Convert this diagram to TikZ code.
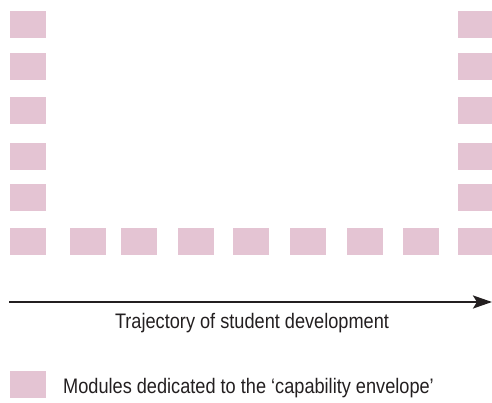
\documentclass[tikz,border=0pt]{standalone}
\usepackage{fontspec}
\setmainfont{Liberation Sans}
\newfontfamily\narrowfont[FakeStretch=0.865]{Liberation Sans}
\usetikzlibrary{arrows.meta}
\definecolor{modulePink}{RGB}{228,196,211}
\definecolor{inkGrey}{RGB}{35,31,32}
\begin{document}
\begin{tikzpicture}
[x=1pt,y=-1pt,
  moduleDecorate/.style={shape=rectangle,fill=modulePink,inner sep=0pt,
    minimum width=36pt,minimum height=27pt},%
  lineDecorate/.style={-{Stealth[length=19pt,width=13pt,inset=4pt]},line width=2.5pt,draw=inkGrey},%
  labelDecorate/.style={font=\narrowfont\fontsize{21}{25}\selectfont,text=inkGrey,inner sep=0pt}]
\useasboundingbox (0,0) rectangle (492,403);
%% capability envelope
%% left and right columns
\foreach \nodename/\x/\y in {
  l1/28/24.5, l2/28/66.5, l3/28/110.5, l4/28/156.5, l5/28/197.5,
  r1/476/24.5, r2/476/66.5, r3/476/110.5, r4/476/156.5, r5/476/197.5}
{
  \node (\nodename) at (\x,\y) [moduleDecorate] {};
}
%% bottom row
\foreach \nodename/\x in {
  b1/28, b2/88, b3/139, b4/196, b5/251, b6/308, b7/365, b8/421, b9/476}
{
  \node (\nodename) at (\x,241.5) [moduleDecorate] {};
}
%% trajectory
\coordinate (start) at (9,302);
\coordinate (end) at (492,302);
\path (start) edge[lineDecorate] (end);
\node (trajectory) at (252,328) [labelDecorate,anchor=base] {Trajectory of student development};
%% legend
\node (key) at (28,384.5) [moduleDecorate] {};
\node (keytext) at (63,393) [labelDecorate,anchor=base west] {Modules dedicated to the ‘capability envelope’};
\end{tikzpicture}
\end{document}
